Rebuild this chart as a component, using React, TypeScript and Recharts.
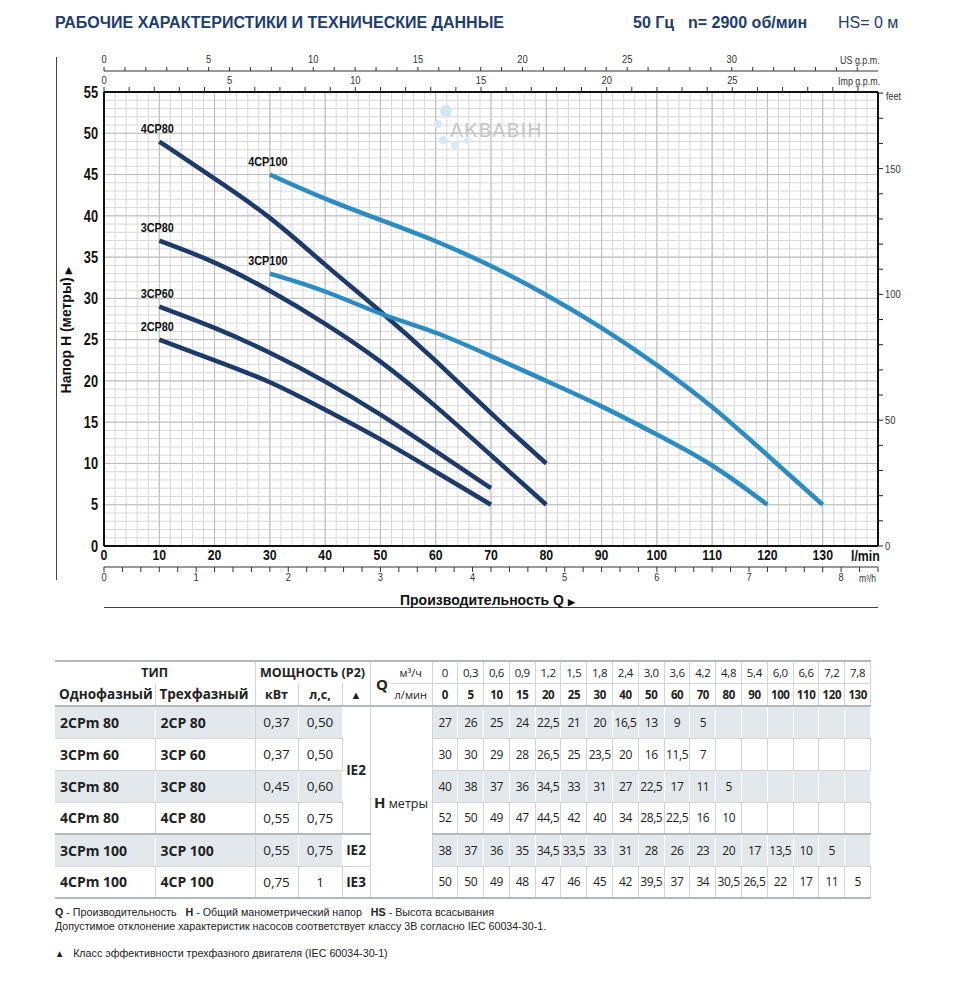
import React from 'react';
import { ComposedChart, Line, XAxis, YAxis, CartesianGrid } from 'recharts';

const qLmin = [0, 5, 10, 15, 20, 25, 30, 40, 50, 60, 70, 80, 90, 100, 110, 120, 130];
const qM3h = ['0', '0,3', '0,6', '0,9', '1,2', '1,5', '1,8', '2,4', '3,0', '3,6', '4,2', '4,8', '5,4', '6,0', '6,6', '7,2', '7,8'];

const head2CP80 = [27, 26, 25, 24, 22.5, 21, 20, 16.5, 13, 9, 5, null, null, null, null, null, null];
const head3CP60 = [30, 30, 29, 28, 26.5, 25, 23.5, 20, 16, 11.5, 7, null, null, null, null, null, null];
const head3CP80 = [40, 38, 37, 36, 34.5, 33, 31, 27, 22.5, 17, 11, 5, null, null, null, null, null];
const head4CP80 = [52, 50, 49, 47, 44.5, 42, 40, 34, 28.5, 22.5, 16, 10, null, null, null, null, null];
const head3CP100 = [38, 37, 36, 35, 34.5, 33.5, 33, 31, 28, 26, 23, 20, 17, 13.5, 10, 5, null];
const head4CP100 = [50, 50, 49, 48, 47, 46, 45, 42, 39.5, 37, 34, 30.5, 26.5, 22, 17, 11, 5];

const models = [
  { single: '2CPm 80', three: '2CP 80', kw: '0,37', hp: '0,50', heads: head2CP80 },
  { single: '3CPm 60', three: '3CP 60', kw: '0,37', hp: '0,50', heads: head3CP60 },
  { single: '3CPm 80', three: '3CP 80', kw: '0,45', hp: '0,60', heads: head3CP80 },
  { single: '4CPm 80', three: '4CP 80', kw: '0,55', hp: '0,75', heads: head4CP80 },
  { single: '3CPm 100', three: '3CP 100', kw: '0,55', hp: '0,75', heads: head3CP100 },
  { single: '4CPm 100', three: '4CP 100', kw: '0,75', hp: '1', heads: head4CP100 },
];

const NAVY = '#1d3a6c';
const BLUE = '#2b8cc4';

// curves on the chart start at these flows (drawn through the 10 l/min columns)
const curves = [
  { name: '4CP80', heads: head4CP80, from: 10, color: NAVY },
  { name: '3CP80', heads: head3CP80, from: 10, color: NAVY },
  { name: '3CP60', heads: head3CP60, from: 10, color: NAVY },
  { name: '2CP80', heads: head2CP80, from: 10, color: NAVY },
  { name: '4CP100', heads: head4CP100, from: 30, color: BLUE },
  { name: '3CP100', heads: head3CP100, from: 30, color: BLUE },
];

// --- axis scales ---
const Q_MAX = 140;
const H_MAX = 55;
const LPM_PER_USGPM = 3.785;
const LPM_PER_IMPGPM = 4.546;
const LPM_PER_M3H = 1000 / 60;
const M_PER_FT = 0.3048;

const range = (a: number, b: number, s: number) => {
  const out: number[] = [];
  for (let v = a; v <= b + 1e-9; v += s) out.push(Math.round(v * 100) / 100);
  return out;
};

const qTicks = range(0, 130, 10);
const hTicks = range(0, 55, 5);
const usTicks = range(0, 36, 1);
const impTicks = range(0, 30, 1);
const m3hTicks = range(0, 8.4, 0.2);
const ftTicks = range(0, 180, 10);

const gridMinorX = range(0, Q_MAX, 2);
const gridMinorY = range(0, H_MAX, 1);
const gridMajorX = range(10, Q_MAX, 10);
const gridMajorY = range(5, H_MAX, 5);

// end points only, so the secondary axes get a domain
const usSpan = [{ x: 0, h: 0 }, { x: Q_MAX / LPM_PER_USGPM, h: 0 }];
const impSpan = [{ x: 0, h: 0 }, { x: Q_MAX / LPM_PER_IMPGPM, h: 0 }];
const m3hSpan = [{ x: 0, h: 0 }, { x: Q_MAX / LPM_PER_M3H, h: 0 }];
const ftSpan = [{ q: 0, ft: 0 }, { q: Q_MAX, ft: H_MAX / M_PER_FT }];

const fmtNum = (v: number | null) => (v == null ? '' : String(v).replace('.', ','));

const SANS = '"Liberation Sans", Arial, sans-serif';
const TABLE_FONT = '"Open Sans", "Noto Sans", sans-serif';

const abs = (left: number, top: number, extra: React.CSSProperties = {}): React.CSSProperties => ({
  position: 'absolute', left, top, whiteSpace: 'nowrap', ...extra,
});

// condensed tick text (the sheet uses a narrow face)
const condTick = (side: 'top' | 'bottom' | 'left' | 'right', size: number, bold: boolean, sx: number,
  show: (v: number) => boolean, fill = '#111') => (p: any) => {
  const v = p.payload.value;
  if (!show(v)) return <g />;
  const anchor = side === 'left' ? 'end' : side === 'right' ? 'start' : 'middle';
  const dy = side === 'bottom' ? '0.72em' : side === 'top' ? '-0.1em' : '0.36em';
  return (
    <g transform={`translate(${p.x},${p.y})`}>
      <text transform={`scale(${sx},1)`} textAnchor={anchor} dy={dy} fontFamily={SANS} fontSize={size}
        fontWeight={bold ? 700 : 400} fill={fill}>{String(v)}</text>
    </g>
  );
};

const Chart = () => (
  <ComposedChart width={958} height={620} margin={{ top: 50, right: 40, bottom: 31, left: 60 }}>
    <CartesianGrid xAxisId="lpm" yAxisId="h" verticalValues={gridMinorX} horizontalValues={gridMinorY} stroke="#d9d9d9" strokeWidth={1} />
    <CartesianGrid xAxisId="lpm" yAxisId="h" verticalValues={gridMajorX} horizontalValues={gridMajorY} stroke="#bdbdbd" strokeWidth={1} />

    <XAxis xAxisId="m3h" type="number" dataKey="x" orientation="bottom" domain={[0, Q_MAX / LPM_PER_M3H]} ticks={m3hTicks} interval={0}
      height={22} tickSize={5} tickMargin={1} axisLine={{ stroke: '#333' }} tickLine={{ stroke: '#333' }}
      tick={condTick('bottom', 11, false, 0.85, (v) => Number.isInteger(v) && v <= 8, '#333')} allowDataOverflow />
    <XAxis xAxisId="lpm" type="number" dataKey="q" orientation="bottom" domain={[0, Q_MAX]} ticks={qTicks} interval={0}
      height={21} tickLine={false} tickSize={2} tickMargin={1} axisLine={{ stroke: '#111', strokeWidth: 2 }}
      tick={condTick('bottom', 15, true, 0.82, () => true)} allowDataOverflow />
    <XAxis xAxisId="imp" type="number" dataKey="x" orientation="top" domain={[0, Q_MAX / LPM_PER_IMPGPM]} ticks={impTicks} interval={0}
      height={21} tickSize={5} tickMargin={2} axisLine={{ stroke: '#111', strokeWidth: 2 }} tickLine={{ stroke: '#333' }}
      tick={condTick('top', 11, false, 0.85, (v) => v % 5 === 0 && v <= 25, '#333')} allowDataOverflow />
    <XAxis xAxisId="us" type="number" dataKey="x" orientation="top" domain={[0, Q_MAX / LPM_PER_USGPM]} ticks={usTicks} interval={0}
      height={21} tickSize={4} tickMargin={3} axisLine={{ stroke: '#333' }} tickLine={{ stroke: '#333' }}
      tick={condTick('top', 11, false, 0.85, (v) => v % 5 === 0 && v <= 30, '#333')} allowDataOverflow />

    <YAxis yAxisId="h" type="number" dataKey="h" orientation="left" domain={[0, H_MAX]} ticks={hTicks} interval={0} width={44}
      tickLine={false} tickSize={4} tickMargin={2} axisLine={{ stroke: '#111', strokeWidth: 2 }}
      tick={condTick('left', 16, true, 0.8, () => true)} allowDataOverflow />
    <YAxis yAxisId="ft" type="number" dataKey="ft" orientation="right" domain={[0, H_MAX / M_PER_FT]} ticks={ftTicks} interval={0} width={40}
      tickSize={5} tickMargin={2} axisLine={{ stroke: '#111', strokeWidth: 2 }} tickLine={{ stroke: '#222' }}
      tick={condTick('right', 11, false, 0.85, (v) => v % 50 === 0, '#333')} allowDataOverflow />

    {/* invisible spans binding the unit axes */}
    <Line xAxisId="us" yAxisId="h" data={usSpan} dataKey="h" stroke="none" dot={false} activeDot={false} isAnimationActive={false} />
    <Line xAxisId="imp" yAxisId="h" data={impSpan} dataKey="h" stroke="none" dot={false} activeDot={false} isAnimationActive={false} />
    <Line xAxisId="m3h" yAxisId="h" data={m3hSpan} dataKey="h" stroke="none" dot={false} activeDot={false} isAnimationActive={false} />
    <Line xAxisId="lpm" yAxisId="ft" data={ftSpan} dataKey="ft" stroke="none" dot={false} activeDot={false} isAnimationActive={false} />

    {curves.map((c) => {
      const data = qLmin
        .map((q, i) => ({ q, h: c.heads[i] }))
        .filter((d) => d.q >= c.from && d.q % 10 === 0 && d.h != null);
      return (
        <Line key={c.name} xAxisId="lpm" yAxisId="h" data={data} dataKey="h" type="basis"
          stroke={c.color} strokeWidth={4.5} dot={false} activeDot={false} isAnimationActive={false}
          label={(p: any) => (p.index === 0 ? (
            <g transform={`translate(${p.x - 2},${p.y - 9})`}>
              <text transform="scale(0.87,1)" textAnchor="middle" fontFamily={SANS} fontSize={12.5} fontWeight={700} fill="#111">{c.name}</text>
            </g>
          ) : <g />)} />
      );
    })}
  </ComposedChart>
);

const cellBase: React.CSSProperties = {
  padding: 0, textAlign: 'center', verticalAlign: 'middle', overflow: 'hidden', whiteSpace: 'nowrap',
};

const DataTable = () => {
  const shade = '#e2e8ec';
  const line = '#cfd5d9';
  const bold: React.CSSProperties = { fontWeight: 700 };
  return (
    <table style={{
      position: 'absolute', left: 55, top: 660, width: 816, borderCollapse: 'collapse', tableLayout: 'fixed',
      fontFamily: TABLE_FONT, fontSize: 12.5, color: '#222', borderTop: '2px solid #b3b8bc', borderBottom: '2px solid #b3b8bc',
    }}>
      <colgroup>
        <col style={{ width: 100 }} /><col style={{ width: 100 }} />
        <col style={{ width: 43 }} /><col style={{ width: 44 }} /><col style={{ width: 28 }} />
        <col style={{ width: 20 }} /><col style={{ width: 42 }} />
        {qLmin.map((q) => <col key={q} style={{ width: 25.8 }} />)}
      </colgroup>
      <thead>
        <tr style={{ height: 22 }}>
          <th colSpan={2} style={{ ...cellBase, ...bold, fontSize: 12.5, borderRight: `1px solid ${line}` }}>ТИП</th>
          <th colSpan={3} style={{ ...cellBase, ...bold, fontSize: 12.5, borderRight: `1px solid ${line}` }}>МОЩНОСТЬ (P2)</th>
          <th rowSpan={2} style={{ ...cellBase, ...bold, fontSize: 15, textAlign: 'right', paddingRight: 2 }}>Q</th>
          <td style={{ ...cellBase, fontSize: 11, borderBottom: `1px solid ${line}`, borderRight: `1px solid ${line}` }}>м³/ч</td>
          {qM3h.map((m) => (
            <td key={m} style={{ ...cellBase, fontSize: 11.5, borderBottom: `1px solid ${line}`, borderRight: `1px solid ${line}`, letterSpacing: -0.3 }}>{m}</td>
          ))}
        </tr>
        <tr style={{ height: 23, borderBottom: '2px solid #b3b8bc' }}>
          <th style={{ ...cellBase, ...bold, fontSize: 13.5, textAlign: 'left', paddingLeft: 4, borderRight: `1px solid ${line}` }}>Однофазный</th>
          <th style={{ ...cellBase, ...bold, fontSize: 13.5, textAlign: 'left', paddingLeft: 4, borderRight: `1px solid ${line}` }}>Трехфазный</th>
          <th style={{ ...cellBase, ...bold, fontSize: 12.5, borderRight: `1px solid ${line}` }}>кВт</th>
          <th style={{ ...cellBase, ...bold, fontSize: 12.5, borderRight: `1px solid ${line}` }}>л,с,</th>
          <th style={{ ...cellBase, ...bold, fontSize: 11, borderRight: `1px solid ${line}` }}>▲</th>
          <td style={{ ...cellBase, fontSize: 11, borderRight: `1px solid ${line}` }}>л/мин</td>
          {qLmin.map((q) => (
            <td key={q} style={{ ...cellBase, ...bold, fontSize: 11.5, borderRight: `1px solid ${line}`, letterSpacing: -0.4 }}>{q}</td>
          ))}
        </tr>
      </thead>
      <tbody>
        {models.map((m, r) => {
          const bg = r % 2 === 0 ? shade : '#fff';
          const sep = r % 2 === 0 ? '#fff' : line;
          const rowBorder = r === 3 ? '2px solid #b3b8bc' : `1px solid ${line}`;
          const c: React.CSSProperties = { ...cellBase, background: bg, borderRight: `1px solid ${sep}`, borderBottom: rowBorder };
          return (
            <tr key={m.single} style={{ height: 32 }}>
              <td style={{ ...c, ...bold, fontSize: 14, textAlign: 'left', paddingLeft: 5 }}>{m.single}</td>
              <td style={{ ...c, ...bold, fontSize: 14, textAlign: 'left', paddingLeft: 5, borderRight: `1px solid ${line}` }}>{m.three}</td>
              <td style={{ ...c, fontSize: 13.5 }}>{m.kw}</td>
              <td style={{ ...c, fontSize: 13.5 }}>{m.hp}</td>
              {r === 0 && (
                <td rowSpan={4} style={{ ...cellBase, ...bold, fontSize: 13.5, borderRight: `1px solid ${line}`, borderBottom: '2px solid #b3b8bc' }}>IE2</td>
              )}
              {r === 4 && (
                <td style={{ ...cellBase, ...bold, fontSize: 13.5, borderRight: `1px solid ${line}`, borderBottom: `1px solid ${line}` }}>IE2</td>
              )}
              {r === 5 && (
                <td style={{ ...cellBase, ...bold, fontSize: 13.5, borderRight: `1px solid ${line}` }}>IE3</td>
              )}
              {r === 0 && (
                <td rowSpan={6} colSpan={2} style={{ ...cellBase, borderRight: `1px solid ${line}` }}>
                  <span style={{ fontWeight: 700, fontSize: 15 }}>H</span>
                  <span style={{ fontSize: 12.5 }}> метры</span>
                </td>
              )}
              {m.heads.map((h, i) => (
                <td key={i} style={{ ...c, fontSize: 12, letterSpacing: -0.4, borderBottom: r === 5 ? 'none' : rowBorder }}>{fmtNum(h)}</td>
              ))}
            </tr>
          );
        })}
      </tbody>
    </table>
  );
};

export default function App() {
  const titleStyle: React.CSSProperties = { fontFamily: SANS, fontWeight: 700, fontSize: 16, color: '#203d72', lineHeight: '20px' };
  const small: React.CSSProperties = { fontFamily: SANS, fontSize: 10.5, color: '#333', lineHeight: '12px', transform: 'scaleX(0.85)', transformOrigin: 'left' };
  const foot: React.CSSProperties = { fontFamily: SANS, fontSize: 11.5, color: '#222', lineHeight: '14px', transform: 'scaleX(0.93)', transformOrigin: 'left' };
  return (
    <div style={{ position: 'absolute', left: 0, top: 0, width: 958, height: 1000, background: '#fff', overflow: 'hidden' }}>
      <div style={abs(0, 0)}><Chart /></div>

      {/* header */}
      <div style={abs(55, 13, titleStyle)}>РАБОЧИЕ ХАРАКТЕРИСТИКИ И ТЕХНИЧЕСКИЕ ДАННЫЕ</div>
      <div style={abs(633, 13, titleStyle)}>50 Гц</div>
      <div style={abs(688, 13, titleStyle)}>n= 2900 об/мин</div>
      <div style={abs(838, 13, { ...titleStyle, fontWeight: 400 })}>HS= 0 м</div>

      {/* frame lines */}
      <div style={abs(56, 57, { width: 1, height: 523, background: '#444' })} />
      <div style={abs(104, 607, { width: 774, height: 1, background: '#444' })} />

      {/* unit labels */}
      <div style={abs(840, 54, small)}>US g.p.m.</div>
      <div style={abs(838, 75, small)}>Imp g.p.m.</div>
      <div style={abs(886, 90, small)}>feet</div>
      <div style={abs(851, 548, { fontFamily: SANS, fontSize: 15, fontWeight: 700, color: '#111', lineHeight: '16px', transform: 'scaleX(0.82)', transformOrigin: 'left' })}>l/min</div>
      <div style={abs(859, 573, { ...small, fontSize: 10 })}>m³/h</div>

      {/* axis titles */}
      <div style={abs(-34, 320, { width: 200, height: 20, lineHeight: '20px', textAlign: 'center', transform: 'rotate(-90deg)',
        fontFamily: SANS, fontWeight: 700, fontSize: 14, color: '#111' })}>
        Напор H (метры) <span style={{ fontSize: 9 }}>▶</span>
      </div>
      <div style={abs(400, 591, { fontFamily: SANS, fontWeight: 700, fontSize: 14, color: '#111', lineHeight: '18px' })}>
        Производительность Q <span style={{ fontSize: 9 }}>▶</span>
      </div>

      {/* watermark */}
      <svg style={abs(430, 100)} width={130} height={60}>
        <circle cx={16} cy={11} r={6} fill="#cfe6f3" />
        <circle cx={8} cy={24} r={4} fill="#d6eaf5" />
        <circle cx={13} cy={40} r={4} fill="#d6eaf5" />
        <circle cx={25} cy={45} r={4} fill="#d6eaf5" />
        <circle cx={37} cy={41} r={3} fill="#d6eaf5" />
        <text x={20} y={37} fontFamily="DejaVu Sans, sans-serif" fontSize={19} fill="#c4c8cc" letterSpacing={1}>АКВАВІН</text>
      </svg>

      <DataTable />

      {/* footnotes */}
      <div style={abs(55, 905, foot)}>
        <b>Q</b> - Производительность&nbsp;&nbsp; <b>H</b> - Общий манометрический напор&nbsp;&nbsp; <b>HS</b> - Высота всасывания
      </div>
      <div style={abs(55, 919, foot)}>Допустимое отклонение характеристик насосов соответствует классу 3B согласно IEC 60034-30-1.</div>
      <div style={abs(55, 946, foot)}><span style={{ fontSize: 10 }}>▲</span>&nbsp;&nbsp; Класс эффективности трехфазного двигателя (IEC 60034-30-1)</div>
    </div>
  );
}
